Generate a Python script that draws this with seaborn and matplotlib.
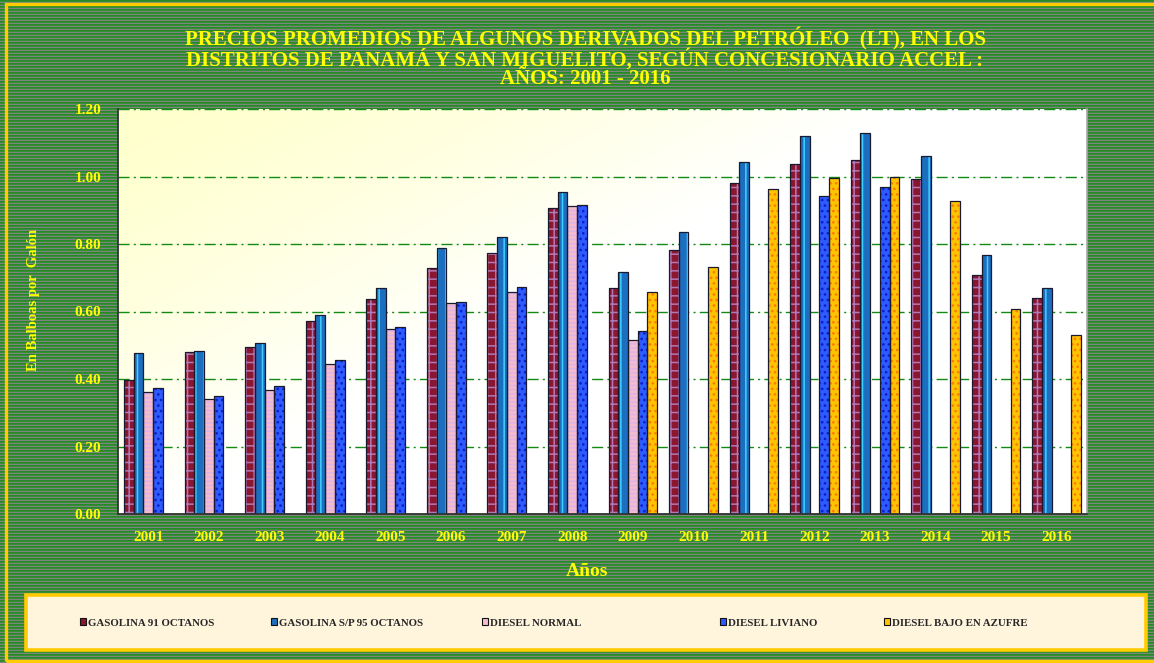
"""Precios promedios de derivados del petróleo, Panamá y San Miguelito, 2001-2016."""

import matplotlib
matplotlib.use("Agg")
import numpy as np
import pandas as pd
import matplotlib.pyplot as plt
from matplotlib.patches import Rectangle, Patch
import seaborn as sns

years = [str(y) for y in range(2001, 2017)]
series = ["GASOLINA 91 OCTANOS", "GASOLINA S/P 95 OCTANOS", "DIESEL NORMAL",
          "DIESEL LIVIANO", "DIESEL BAJO EN AZUFRE"]

gasolina_91 = [0.397, 0.479, 0.496, 0.573, 0.636, 0.728, 0.772, 0.906,
               0.669, 0.781, 0.982, 1.038, 1.048, 0.992, 0.709, 0.639]
gasolina_95 = [0.477, 0.482, 0.506, 0.589, 0.669, 0.788, 0.822, 0.955,
               0.718, 0.835, 1.044, 1.121, 1.128, 1.061, 0.768, 0.669]
diesel_normal = [0.362, 0.340, 0.366, 0.445, 0.549, 0.625, 0.659, 0.912,
                 0.517, None, None, None, None, None, None, None]
diesel_liviano = [0.372, 0.350, 0.379, 0.455, 0.555, 0.629, 0.672, 0.915,
                  0.542, None, None, 0.941, 0.968, None, None, None]
diesel_bajo_azufre = [None, None, None, None, None, None, None, None,
                      0.658, 0.732, 0.962, 0.995, 0.999, 0.928, 0.608, 0.529]

yticks = [0.0, 0.2, 0.4, 0.6, 0.8, 1.0, 1.2]

title = ("PRECIOS PROMEDIOS DE ALGUNOS DERIVADOS DEL PETRÓLEO  (LT), EN LOS\n"
         "DISTRITOS DE PANAMÁ Y SAN MIGUELITO, SEGÚN CONCESIONARIO ACCEL :\n"
         "AÑOS: 2001 - 2016")

# face colour, hatch, hatch colour
styles = {
    "GASOLINA 91 OCTANOS": ("#8A1630", "++", "#B07AB8"),
    "GASOLINA S/P 95 OCTANOS": ("#1C6FC0", "||", "#3FD0FF"),
    "DIESEL NORMAL": ("#F6BCCB", "----", "#DDB4EA"),
    "DIESEL LIVIANO": ("#2E5BFF", "...", "#0A1FC8"),
    "DIESEL BAJO EN AZUFRE": ("#FFC400", "...", "#FF7A00"),
}

values = [gasolina_91, gasolina_95, diesel_normal, diesel_liviano, diesel_bajo_azufre]
rows = []
for name, vals in zip(series, values):
    for yr, v in zip(years, vals):
        rows.append({"Año": yr, "Producto": name, "Precio": v})
df = pd.DataFrame(rows).dropna()

sns.set_theme(style="white")
plt.rcParams["font.family"] = ["Liberation Serif", "DejaVu Serif"]
plt.rcParams["hatch.linewidth"] = 1.1

W, H = 1154, 663
fig = plt.figure(figsize=(W / 100, H / 100), dpi=100)

# striped green background
bg = fig.add_axes([0, 0, 1, 1], zorder=-10)
stripe = np.array([[0.16, 0.53, 0.16], [0.20, 0.57, 0.20], [0.50, 0.52, 0.50]])
img = np.tile(stripe, (H // 3 + 1, 1))[:H].reshape(H, 1, 3)
bg.imshow(img, aspect="auto", interpolation="nearest", extent=[0, 1, 0, 1])
bg.set_axis_off()

# outer yellow frame
fig.patches.append(Rectangle((6 / W, 1 - 661 / H), 1.1, (661 - 4) / H, transform=fig.transFigure,
                             fill=False, edgecolor="#FFCC00", linewidth=2.4, zorder=1))

pos = [118 / W, 1 - 514 / H, (1087 - 118) / W, (514 - 109) / H]

# plot-area gradient (light yellow top-left to white)
gax = fig.add_axes(pos, zorder=-5)
gx, gy = np.meshgrid(np.linspace(0, 1, 200), np.linspace(1, 0, 200))
s = np.clip(gx / 0.8 + (1 - gy) / 1.05, 0, 1)[..., None] ** 1.3
yellow = np.array([1.0, 1.0, 0.80])
grad = yellow * (1 - s) + np.array([1.0, 1.0, 1.0]) * s
gax.imshow(grad, aspect="auto", extent=[0, 1, 0, 1])
gax.set_axis_off()

ax = fig.add_axes(pos)
ax.set_facecolor("none")
sns.barplot(data=df, x="Año", y="Precio", hue="Producto", order=years, hue_order=series,
            palette={k: v[0] for k, v in styles.items()}, saturation=1, width=0.8,
            legend=False, ax=ax)

for i, cont in enumerate(ax.containers):
    name = cont.get_label() if cont.get_label() in styles else series[i]
    face, hatch, hcol = styles[name]
    for bar in cont:
        h = bar.get_height()
        if not np.isfinite(h):
            continue
        bar.set_facecolor(face)
        bar.set_hatch(hatch)
        bar.set_edgecolor(hcol)
        bar.set_linewidth(0)
        ax.add_patch(Rectangle(bar.get_xy(), bar.get_width(), h, fill=False,
                               edgecolor="#1a1a2e", linewidth=0.9, zorder=bar.get_zorder() + 0.1))

ax.set_ylim(0, 1.2)
ax.set_xlim(-0.5, len(years) - 0.5)
ax.set_yticks(yticks)
ax.set_yticklabels([f"{t:.2f}" for t in yticks])
ax.set_xticks(np.arange(-0.5, len(years), 1), minor=True)

ax.yaxis.grid(True, color="#138A13", linestyle=(0, (8, 3, 1.5, 3)), linewidth=1.0)
ax.set_axisbelow(True)

for side in ["left", "bottom"]:
    ax.spines[side].set_color("#333333")
    ax.spines[side].set_linewidth(1.3)
ax.spines["top"].set_visible(False)
ax.spines["right"].set_color("#A8A8A8")
ax.spines["right"].set_linewidth(1.2)

ax.tick_params(axis="y", which="major", direction="out", length=4, width=1.2, color="#333333",
               pad=8, labelcolor="#FFFF00", labelsize=11)
ax.tick_params(axis="x", which="major", length=0, pad=12, labelcolor="#FFFF00", labelsize=11)
ax.tick_params(axis="x", which="minor", direction="out", length=3.5, width=1.2, color="#333333")
for lbl in ax.get_xticklabels() + ax.get_yticklabels():
    lbl.set_fontweight("bold")

ax.set_xlabel("Años", color="#FFFF00", fontweight="bold", fontsize=14)
ax.xaxis.set_label_coords(0.484, -0.121)
ax.set_ylabel("En Balboas por  Galón", color="#FFFF00", fontweight="bold", fontsize=10.5)
ax.yaxis.set_label_coords(-0.08, 0.528)

fig.text(585 / W, 1 - 58 / H, title, ha="center", va="center", color="#FFFF00",
         fontweight="bold", fontsize=15, linespacing=0.9)

# legend box
fig.patches.append(Rectangle((26 / W, 1 - 650 / H), (1146 - 26) / W, (650 - 595) / H,
                             transform=fig.transFigure, facecolor="#FFF4DC",
                             edgecolor="#FFCC00", linewidth=2.6, zorder=2))
legend_x = [80, 271, 482, 720, 884]  # left edge of each legend entry, px
for name, lx in zip(series, legend_x):
    handle = Patch(facecolor=styles[name][0], edgecolor="#111111", linewidth=0.8)
    leg = fig.legend([handle], [name], loc="center left", bbox_to_anchor=(lx / W, 1 - 623 / H),
                     frameon=False, borderpad=0, borderaxespad=0, handlelength=0.55,
                     handleheight=0.55, handletextpad=0.15, prop={"weight": "bold", "size": 7.8})
    leg.set_zorder(5)

fig.savefig("out.png", dpi=100)
print("Saved: out.png")
